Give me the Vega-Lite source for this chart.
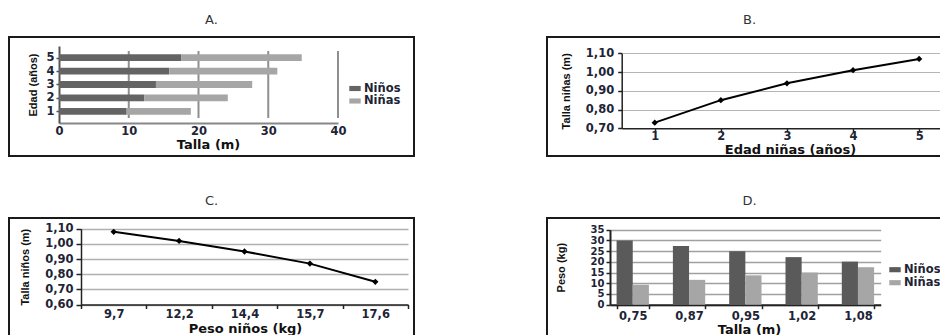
{
  "$schema": "https://vega.github.io/schema/vega-lite/v6.json",
  "padding": {"left": 8, "top": 13, "right": 5, "bottom": 5},
  "background": "white",
  "datasets": {
    "a": [
      {"Edad": 1, "Sexo": "Niños", "Talla": 9.7}, {"Edad": 1, "Sexo": "Niñas", "Talla": 9.2},
      {"Edad": 2, "Sexo": "Niños", "Talla": 12.2}, {"Edad": 2, "Sexo": "Niñas", "Talla": 12.0},
      {"Edad": 3, "Sexo": "Niños", "Talla": 13.9}, {"Edad": 3, "Sexo": "Niñas", "Talla": 13.8},
      {"Edad": 4, "Sexo": "Niños", "Talla": 15.8}, {"Edad": 4, "Sexo": "Niñas", "Talla": 15.5},
      {"Edad": 5, "Sexo": "Niños", "Talla": 17.5}, {"Edad": 5, "Sexo": "Niñas", "Talla": 17.3}
    ],
    "agrid": [{"Talla": 10}, {"Talla": 20}, {"Talla": 30}, {"Talla": 40}],
    "b": [
      {"Edad": 1, "Talla": 0.73}, {"Edad": 2, "Talla": 0.85}, {"Edad": 3, "Talla": 0.94},
      {"Edad": 4, "Talla": 1.01}, {"Edad": 5, "Talla": 1.07}
    ],
    "c": [
      {"Peso": "9,7", "Talla": 1.08}, {"Peso": "12,2", "Talla": 1.02}, {"Peso": "14,4", "Talla": 0.95},
      {"Peso": "15,7", "Talla": 0.87}, {"Peso": "17,6", "Talla": 0.75}
    ],
    "d": [
      {"Talla": "0,75", "Sexo": "Niños", "Peso": 30}, {"Talla": "0,75", "Sexo": "Niñas", "Peso": 9.3},
      {"Talla": "0,87", "Sexo": "Niños", "Peso": 27.4}, {"Talla": "0,87", "Sexo": "Niñas", "Peso": 11.6},
      {"Talla": "0,95", "Sexo": "Niños", "Peso": 25}, {"Talla": "0,95", "Sexo": "Niñas", "Peso": 13.7},
      {"Talla": "1,02", "Sexo": "Niños", "Peso": 22.2}, {"Talla": "1,02", "Sexo": "Niñas", "Peso": 15},
      {"Talla": "1,08", "Sexo": "Niños", "Peso": 20.1}, {"Talla": "1,08", "Sexo": "Niñas", "Peso": 17.5}
    ]
  },
  "columns": 2,
  "spacing": {"row": 36, "column": 131},
  "resolve": {"scale": {"color": "independent"}, "legend": {"color": "independent"}},
  "concat": [
    {
      "title": "A.",
      "width": 405, "height": 119,
      "layer": [
        {
          "data": {"name": "agrid"},
          "mark": {"type": "rule", "color": "#8f8f8f", "strokeWidth": 2},
          "encoding": {
            "x": {"field": "Talla", "type": "quantitative",
              "scale": {"domain": [0, 40], "range": [50, 329], "nice": false},
              "axis": {"title": "Talla (m)", "offset": -33, "values": [0, 10, 20, 30, 40], "ticks": false, "tickSize": 0, "labelPadding": 2, "titleX": 199, "titleY": 21.7, "grid": false, "domainColor": "#888", "domainWidth": 2}},
            "y": {"datum": 0.5, "type": "quantitative",
              "scale": {"domain": [0.5, 5.5], "range": [86, 9], "nice": false, "zero": false},
              "axis": {"title": "Edad (años)", "offset": -50, "values": [1, 2, 3, 4, 5], "format": "d", "tickSize": 3, "labelPadding": 2, "titleX": -26, "grid": false, "domainColor": "#555", "domainWidth": 2, "tickColor": "#555"}},
            "y2": {"datum": 5.5}
          }
        },
        {
          "data": {"name": "a"},
          "mark": {"type": "bar", "orient": "horizontal", "size": 6.8},
          "encoding": {
            "y": {"field": "Edad", "type": "quantitative",
              "scale": {"domain": [0.5, 5.5], "range": [86, 9], "nice": false, "zero": false},
              "axis": {"title": "Edad (años)", "offset": -50, "values": [1, 2, 3, 4, 5], "format": "d", "tickSize": 3, "labelPadding": 2, "titleX": -26, "grid": false, "domainColor": "#555", "domainWidth": 2, "tickColor": "#555"}},
            "x": {"field": "Talla", "type": "quantitative", "stack": "zero",
              "scale": {"domain": [0, 40], "range": [50, 329], "nice": false},
              "axis": {"title": "Talla (m)", "offset": -33, "values": [0, 10, 20, 30, 40], "ticks": false, "tickSize": 0, "labelPadding": 2, "titleX": 199, "titleY": 21.7, "grid": false, "domainColor": "#888", "domainWidth": 2}},
            "color": {"field": "Sexo", "type": "nominal",
              "scale": {"domain": ["Niños", "Niñas"], "range": ["#646464", "#a6a6a6"]},
              "legend": {"title": null, "legendX": 340, "legendY": 45.5, "rowPadding": 0.5}},
            "order": {"field": "Sexo", "sort": "descending"}
          }
        }
      ]
    },
    {
      "title": "B.",
      "width": 405, "height": 119,
      "data": {"name": "b"},
      "encoding": {
        "x": {"field": "Edad", "type": "quantitative",
          "scale": {"domain": [0.5, 5.5], "range": [74.7, 405.2], "nice": false, "zero": false},
          "axis": {"title": "Edad niñas (años)", "offset": -27.7, "values": [1, 2, 3, 4, 5], "format": "d", "tickSize": 3, "labelPadding": -0.5, "grid": false, "titleX": 243, "titleY": 21.3}},
        "y": {"field": "Talla", "type": "quantitative",
          "scale": {"domain": [0.7, 1.1], "range": [91.3, 16.3], "nice": false, "zero": false},
          "axis": {"title": "Talla niñas (m)", "offset": -74.7, "values": [0.7, 0.8, 0.9, 1.0, 1.1], "format": ".2f", "tickSize": 4, "labelPadding": 4, "titleX": -55.7, "grid": true, "gridColor": "#b5b5b5", "gridWidth": 1.2}}
      },
      "layer": [
        {"mark": {"type": "line", "color": "#000", "strokeWidth": 2}},
        {"mark": {"type": "point", "shape": "diamond", "filled": true, "color": "#000", "size": 40, "opacity": 1}}
      ]
    },
    {
      "title": "C.",
      "width": 405, "height": 119,
      "data": {"name": "c"},
      "encoding": {
        "x": {"field": "Peso", "type": "ordinal", "sort": ["9,7", "12,2", "14,4", "15,7", "17,6"], "bandPosition": 0.5,
          "scale": {"type": "band", "range": [72, 399], "paddingInner": 0, "paddingOuter": 0},
          "axis": {"title": "Peso niños (kg)", "offset": -32.5, "tickBand": "extent", "tickSize": 4, "labelPadding": 0, "labelAngle": 0, "grid": false, "titleX": 236, "titleY": 24}},
        "y": {"field": "Talla", "type": "quantitative",
          "scale": {"domain": [0.6, 1.1], "range": [86.5, 10.8], "nice": false, "zero": false},
          "axis": {"title": "Talla niños (m)", "offset": -72, "values": [0.6, 0.7, 0.8, 0.9, 1.0, 1.1], "format": ".2f", "tickSize": 5, "labelPadding": 3, "titleX": -56, "grid": true, "gridColor": "#b0b0b0", "gridWidth": 1.5}}
      },
      "layer": [
        {"mark": {"type": "line", "color": "#000", "strokeWidth": 2}},
        {"mark": {"type": "point", "shape": "diamond", "filled": true, "color": "#000", "size": 40, "opacity": 1}}
      ]
    },
    {
      "title": "D.",
      "width": 405, "height": 119,
      "data": {"name": "d"},
      "mark": {"type": "bar"},
      "encoding": {
        "x": {"field": "Talla", "type": "nominal", "sort": ["0,75", "0,87", "0,95", "1,02", "1,08"],
          "scale": {"range": [63, 333.7], "paddingInner": 0.426, "paddingOuter": 0.117},
          "axis": {"title": "Talla (m)", "offset": -32.3, "tickBand": "extent", "tickSize": 4, "labelPadding": 2, "labelAngle": 0, "grid": false, "titleX": 202, "titleY": 24.3, "domainWidth": 2}},
        "xOffset": {"field": "Sexo", "type": "nominal", "scale": {"domain": ["Niños", "Niñas"], "paddingInner": 0, "paddingOuter": 0}},
        "y": {"field": "Peso", "type": "quantitative",
          "scale": {"domain": [0, 35], "range": [86.7, 11.7], "nice": false},
          "axis": {"title": "Peso (kg)", "offset": -63, "values": [0, 5, 10, 15, 20, 25, 30, 35], "format": "d", "tickSize": 4, "labelPadding": 2, "labelFontSize": 10, "titleX": -48.2, "grid": true, "gridColor": "#a0a0a0", "gridWidth": 1.5, "domainWidth": 2}},
        "color": {"field": "Sexo", "type": "nominal",
          "scale": {"domain": ["Niños", "Niñas"], "range": ["#5a5a5a", "#a6a6a6"]},
          "legend": {"title": null, "legendX": 342, "legendY": 45.7, "rowPadding": 1}}
      }
    }
  ],
  "config": {
    "locale": {"number": {"decimal": ",", "thousands": ".", "grouping": [3], "currency": ["", " €"]}},
    "view": {"stroke": "#1a1a1a", "strokeWidth": 2},
    "title": {"font": "DejaVu Sans", "fontSize": 13, "fontWeight": "normal", "color": "#333", "anchor": "middle", "baseline": "alphabetic", "offset": 10},
    "axis": {
      "labelFont": "DejaVu Sans", "labelFontSize": 11.5, "labelFontWeight": "bold", "labelColor": "#1e2436",
      "titleFont": "DejaVu Sans", "titleFontSize": 13, "titleFontWeight": "bold", "titleColor": "#111",
      "domainColor": "#222", "domainWidth": 1.5, "tickColor": "#222", "tickWidth": 1.5,
      "gridColor": "#aaa", "gridWidth": 1.5, "labelOverlap": false, "labelBound": false, "labelFlush": false,
      "titleBaseline": "middle"
    },
    "axisY": {"titleFont": "Liberation Sans", "titleFontSize": 11, "titleAngle": -90},
    "legend": {
      "orient": "none", "labelFont": "DejaVu Sans", "labelFontSize": 11.5, "labelFontWeight": "bold", "labelColor": "#1e2436",
      "symbolType": "M-1,-0.45H1V0.45H-1Z", "symbolSize": 130, "symbolStrokeWidth": 0, "labelOffset": 3, "rowPadding": 0
    }
  }
}
